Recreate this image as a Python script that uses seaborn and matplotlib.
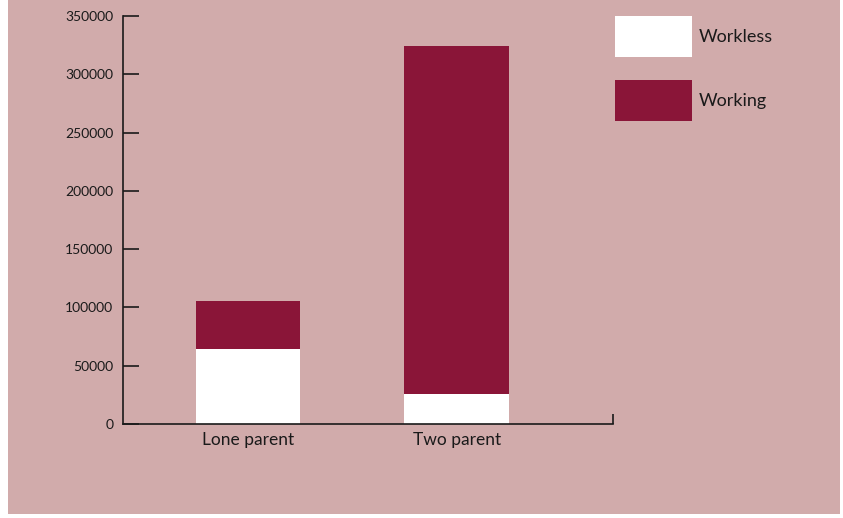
import matplotlib
matplotlib.use("Agg")
import matplotlib.pyplot as plt
from matplotlib.patches import Rectangle, Patch
import seaborn as sns
import pandas as pd

# Families with dependent children, by parental working status
categories = ["Lone parent", "Two parent"]
workless = [64000, 26000]
working = [41500, 298500]
series_names = ["Workless", "Working"]
y_ticks = [0, 50000, 100000, 150000, 200000, 250000, 300000, 350000]

PINK = "#d1abab"
MAROON = "#8a1538"
INK = "#1a1a1a"

df = pd.DataFrame({
    "family": categories,
    "Workless": workless,
    "Working": working,
})
df["total"] = df["Workless"] + df["Working"]

sns.set_style("white")
plt.rcParams["font.family"] = ["Lato", "DejaVu Sans"]

W, H = 843, 518
fig = plt.figure(figsize=(W / 100, H / 100), dpi=100, facecolor="white")

# pink panel behind everything
fig.patches.append(Rectangle((8 / W, 4 / H), 832 / W, 514 / H,
                             transform=fig.transFigure, facecolor=PINK,
                             edgecolor="none", zorder=-10))

ax = fig.add_axes([123 / W, 94 / H, 490 / W, 408 / H])
ax.set_facecolor("none")

# stacked bars: full height in maroon, workless share in white over it
sns.barplot(data=df, x="family", y="total", color=MAROON, saturation=1,
            width=0.5, ax=ax, linewidth=0)
sns.barplot(data=df, x="family", y="Workless", color="white", saturation=1,
            width=0.5, ax=ax, linewidth=0)

ax.set_xlim(-0.6, 1.75)
ax.set_ylim(0, 350000)
ax.set_yticks(y_ticks)
ax.set_yticklabels([str(v) for v in y_ticks])
ax.set_xlabel("")
ax.set_ylabel("")

for side in ("top", "right"):
    ax.spines[side].set_visible(False)
for side in ("left", "bottom"):
    ax.spines[side].set_color(INK)
    ax.spines[side].set_linewidth(1.2)

ax.tick_params(axis="y", direction="in", length=11.5, width=1.2, color=INK,
               labelsize=10, labelcolor=INK, pad=7, left=True)
ax.tick_params(axis="x", which="major", length=0, labelsize=12.5,
               labelcolor=INK, pad=6)
ax.set_xticks([1.75], minor=True)
ax.tick_params(axis="x", which="minor", direction="in", length=7, width=1.2,
               color=INK, bottom=True)

handles = [Patch(facecolor="white", edgecolor="none"),
           Patch(facecolor=MAROON, edgecolor="none")]
fig.legend(handles, series_names, loc="upper left",
           bbox_to_anchor=(615 / W, 1 - 16 / H), frameon=False,
           fontsize=13, handlelength=4.25, handleheight=3.12,
           labelspacing=1.28, handletextpad=0.39, borderpad=0,
           borderaxespad=0, labelcolor=INK)

fig.savefig("out.png", dpi=100, facecolor="white")
